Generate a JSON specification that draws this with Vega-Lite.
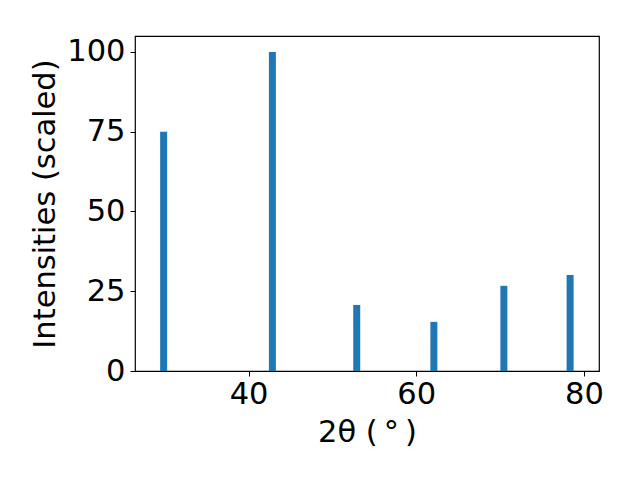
{
  "$schema": "https://vega.github.io/schema/vega-lite/v6.json",
  "width": 464,
  "height": 335,
  "autosize": {"type": "none"},
  "padding": {"left": 135, "top": 36, "right": 41, "bottom": 109},
  "background": "white",
  "config": {
    "view": {"stroke": "black", "strokeWidth": 1.2},
    "font": "DejaVu Sans",
    "axis": {
      "domain": false,
      "grid": false,
      "tickColor": "black",
      "tickSize": 5,
      "tickWidth": 1,
      "labelFont": "DejaVu Sans",
      "labelFontSize": 30.5,
      "labelColor": "black",
      "titleFont": "DejaVu Sans",
      "titleFontSize": 30.5,
      "titleFontWeight": "normal",
      "titleColor": "black"
    }
  },
  "data": {
    "values": [
      {"two_theta": 29.87, "intensity": 75.0},
      {"two_theta": 42.84, "intensity": 100.0},
      {"two_theta": 52.9, "intensity": 20.7},
      {"two_theta": 62.1, "intensity": 15.4},
      {"two_theta": 70.45, "intensity": 26.7},
      {"two_theta": 78.35, "intensity": 30.1}
    ]
  },
  "mark": {"type": "bar", "width": 7, "color": "#1f77b4"},
  "encoding": {
    "x": {
      "field": "two_theta",
      "type": "quantitative",
      "scale": {"domain": [27.05, 81.2], "nice": false, "zero": false},
      "axis": {"values": [40, 60, 80], "title": "2θ (\u2009°\u2009)", "titlePadding": 8, "labelPadding": 3}
    },
    "y": {
      "field": "intensity",
      "type": "quantitative",
      "scale": {"domain": [0, 105], "nice": false},
      "axis": {"values": [0, 25, 50, 75, 100], "title": "Intensities (scaled)", "titlePadding": 6, "labelPadding": 5}
    }
  }
}
